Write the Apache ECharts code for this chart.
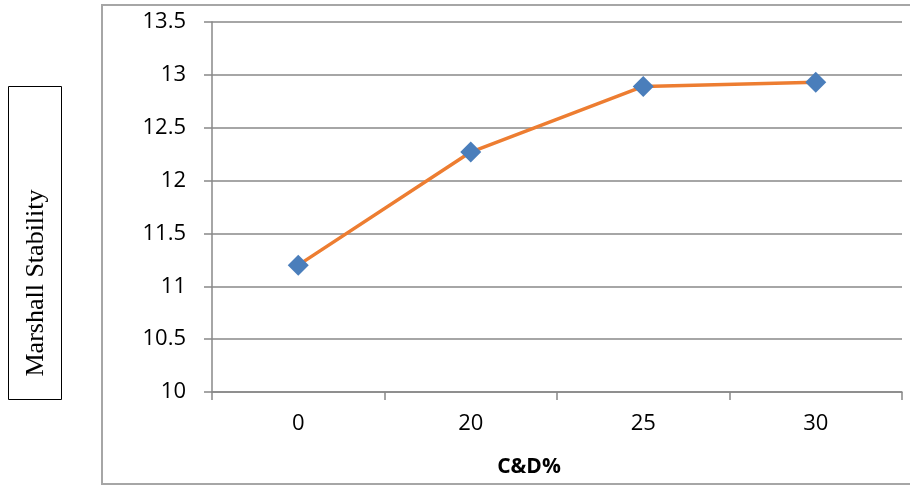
<!DOCTYPE html>
<html>
<head>
<meta charset="utf-8">
<script src="https://cdn.jsdelivr.net/npm/echarts@6/dist/echarts.min.js"></script>
<style>
  html, body { margin: 0; padding: 0; background: #ffffff; }
  #chart { width: 910px; height: 485px; }
</style>
</head>
<body>
<div id="chart"></div>
<script>
// C&D content (%) on the category axis
const categories = ['0', '20', '25', '30'];
// Marshall stability at each C&D content
const stability = [11.2, 12.27, 12.89, 12.93];
// Value-axis range and step
const yMin = 10;
const yMax = 13.5;
const yStep = 0.5;

const gridColor = '#888888';
const labelFont = '"Open Sans", "Noto Sans", sans-serif';

const chart = echarts.init(document.getElementById('chart'), null, { renderer: 'canvas' });

chart.setOption({
  backgroundColor: '#ffffff',
  animation: false,
  grid: { left: 212, right: 8, top: 22, bottom: 93, containLabel: false },
  xAxis: {
    type: 'category',
    data: categories,
    boundaryGap: true,
    axisLine: { show: true, lineStyle: { color: gridColor, width: 1.5 } },
    axisTick: { show: true, length: 8, alignWithLabel: false, lineStyle: { color: gridColor, width: 1.5 } },
    axisLabel: { color: '#000000', fontFamily: labelFont, fontSize: 22, margin: 21 },
    splitLine: { show: false }
  },
  yAxis: {
    type: 'value',
    min: yMin,
    max: yMax,
    interval: yStep,
    axisLine: { show: true, lineStyle: { color: gridColor, width: 1.5 } },
    axisTick: { show: true, length: 8, lineStyle: { color: gridColor, width: 1.5 } },
    axisLabel: { color: '#000000', fontFamily: labelFont, fontSize: 22, margin: 26,
      formatter: v => String(v) },
    splitLine: { show: true, lineStyle: { color: gridColor, width: 1.5 } }
  },
  series: [{
    type: 'line',
    data: stability,
    symbol: 'diamond',
    symbolSize: 21,
    lineStyle: { color: '#ED7D31', width: 3.5 },
    itemStyle: { color: '#4A7EBB' },
    z: 3
  }],
  graphic: [
    // outer chart frame
    { type: 'rect', shape: { x: 102, y: 5, width: 830, height: 479 },
      style: { fill: null, stroke: '#a6a6a6', lineWidth: 2 }, silent: true, z: -1 },
    // boxed y-axis title
    { type: 'rect', shape: { x: 8.5, y: 86.5, width: 53, height: 313 },
      style: { fill: '#ffffff', stroke: '#000000', lineWidth: 1 }, silent: true },
    { type: 'text', x: 36, y: 283, rotation: Math.PI / 2,
      style: { text: 'Marshall Stability', fill: '#000000',
        font: '26px "Liberation Serif", "DejaVu Serif", serif',
        align: 'center', verticalAlign: 'middle' } },
    // x-axis title
    { type: 'text', x: 529, y: 467,
      style: { text: 'C&D%', fill: '#000000',
        font: 'bold 21px "Open Sans", "Noto Sans", sans-serif',
        align: 'center', verticalAlign: 'middle' } }
  ]
});
</script>
</body>
</html>
